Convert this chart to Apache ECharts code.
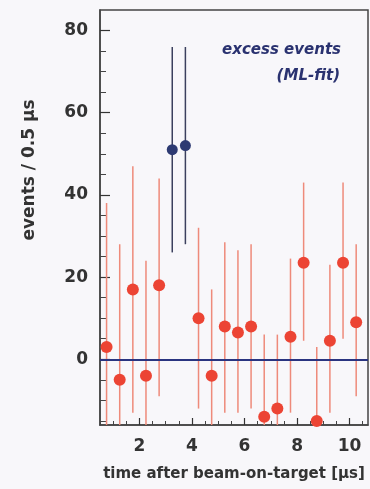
<!DOCTYPE html>
<html>
<head>
<meta charset="utf-8">
<script src="https://cdn.jsdelivr.net/npm/echarts@6/dist/echarts.min.js"></script>
<style>
  html, body { margin: 0; padding: 0; background: #f8f7fa; }
  #chart { width: 370px; height: 489px; }
</style>
</head>
<body>
<div id="chart"></div>
<script>
// bin centres [us], fitted excess and its error band
var timeRed = [0.75, 1.25, 1.75, 2.25, 2.75, 4.25, 4.75, 5.25, 5.75, 6.25, 6.75, 7.25, 7.75, 8.25, 8.75, 9.25, 9.75, 10.25];
var eventsRed = [3, -5, 17, -4, 18, 10, -4, 8, 6.5, 8, -14, -12, 5.5, 23.5, -15, 4.5, 23.5, 9];
var lowRed = [-32, -38, -13, -32, -9, -12, -25, -13, -13, -12, -34, -30, -13, 4.5, -33, -13, 5, -9];
var highRed = [38, 28, 47, 24, 44, 32, 17, 28.5, 26.5, 28, 6, 6, 24.5, 43, 3, 23, 43, 28];

var timeBlue = [3.25, 3.75];
var eventsBlue = [51, 52];
var lowBlue = [26, 28];
var highBlue = [76, 76];

var xLabels = [2, 4, 6, 8, 10];
var xMinor = [0.5, 1, 1.5, 2.5, 3, 3.5, 4.5, 5, 5.5, 6.5, 7, 7.5, 8.5, 9, 9.5, 10.5];
var yLabels = [0, 20, 40, 60, 80];
var yMinor = [-15, -10, -5, 5, 10, 15, 25, 30, 35, 45, 50, 55, 65, 70, 75];

function pairs(xs, ys) {
  return xs.map(function (x, i) { return [x, ys[i]]; });
}
function bars(xs, lo, hi) {
  return xs.map(function (x, i) { return [x, lo[i], hi[i]]; });
}
function errRender(color) {
  return function (params, api) {
    var a = api.coord([api.value(0), api.value(1)]);
    var b = api.coord([api.value(0), api.value(2)]);
    return {
      type: 'line',
      shape: { x1: a[0], y1: a[1], x2: b[0], y2: b[1] },
      style: { stroke: color, lineWidth: 1.5 }
    };
  };
}

var FONT = 'DejaVu Sans';
var txt = { color: '#333', fontFamily: FONT, fontWeight: 'bold' };
var frame = { show: true, onZero: false, lineStyle: { color: '#444', width: 1.5 } };

var myChart = echarts.init(document.getElementById('chart'));
myChart.setOption({
  animation: false,
  grid: {
    left: 100, top: 10, right: 2, bottom: 64, outerBoundsMode: 'none', containLabel: false,
    show: true, borderColor: '#444', borderWidth: 1.5
  },
  xAxis: [{
    type: 'value', min: 0.5, max: 10.7,
    name: 'time after beam-on-target [µs]', nameLocation: 'middle', nameGap: 42,
    nameTextStyle: Object.assign({ fontSize: 15 }, txt),
    axisLine: frame, splitLine: { show: false },
    axisTick: { inside: true, length: 7, customValues: xLabels, lineStyle: { color: '#333', width: 1.2 } },
    axisLabel: Object.assign({ fontSize: 17, margin: 13, customValues: xLabels }, txt)
  }, {
    type: 'value', min: 0.5, max: 10.7, position: 'bottom',
    axisLine: { show: false, onZero: false }, splitLine: { show: false },
    axisTick: { inside: true, length: 4, customValues: xMinor, lineStyle: { color: '#444', width: 1 } },
    axisLabel: { show: false }
  }],
  yAxis: [{
    type: 'value', min: -16, max: 85,
    axisLine: frame, splitLine: { show: false },
    axisTick: { inside: true, length: 10, customValues: yLabels, lineStyle: { color: '#333', width: 1.2 } },
    axisLabel: Object.assign({ fontSize: 17, margin: 12, customValues: yLabels }, txt)
  }, {
    type: 'value', min: -16, max: 85, position: 'left',
    axisLine: { show: false, onZero: false }, splitLine: { show: false },
    axisTick: { inside: true, length: 6, customValues: yMinor, lineStyle: { color: '#444', width: 1 } },
    axisLabel: { show: false }
  }],
  graphic: [{
    type: 'text', x: 30, y: 170, rotation: Math.PI / 2,
    style: { text: 'events / 0.5 µs', fill: '#333', font: 'bold 17px "' + FONT + '"', textAlign: 'center', textVerticalAlign: 'middle' }
  }, {
    type: 'text', x: 341, y: 50,
    style: { text: 'excess events', fill: '#2a3270', font: 'italic bold 15px "' + FONT + '"', textAlign: 'right', textVerticalAlign: 'middle' }
  }, {
    type: 'text', x: 340, y: 76,
    style: { text: '(ML-fit)', fill: '#2a3270', font: 'italic bold 15px "' + FONT + '"', textAlign: 'right', textVerticalAlign: 'middle' }
  }],
  series: [{
    type: 'custom', renderItem: errRender('#ee8a7a'), data: bars(timeRed, lowRed, highRed),
    encode: { x: 0, y: [1, 2] }, clip: true, z: 2
  }, {
    type: 'custom', renderItem: errRender('#3c405e'), data: bars(timeBlue, lowBlue, highBlue),
    encode: { x: 0, y: [1, 2] }, clip: true, z: 2
  }, {
    type: 'scatter', data: pairs(timeRed, eventsRed), symbolSize: 12,
    itemStyle: { color: '#ec4434', opacity: 1 }, z: 4,
    markLine: {
      silent: true, symbol: 'none', label: { show: false },
      lineStyle: { color: '#2a3480', width: 2, type: 'solid' },
      data: [{ yAxis: 0 }]
    }
  }, {
    type: 'scatter', data: pairs(timeBlue, eventsBlue), symbolSize: 11,
    itemStyle: { color: '#2d3a72', opacity: 1 }, z: 4
  }]
});
</script>
</body>
</html>
